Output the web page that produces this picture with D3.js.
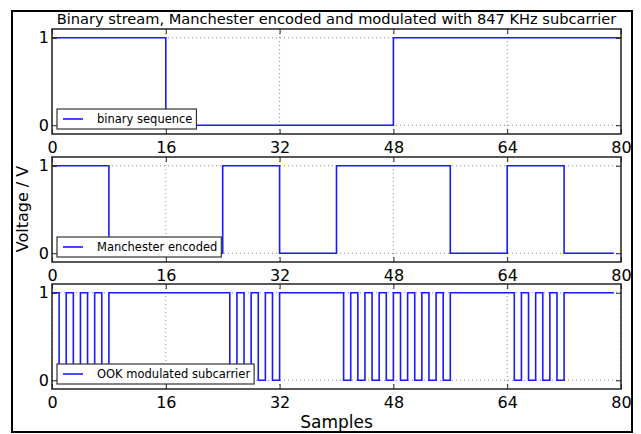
<!DOCTYPE html>
<html>
<head>
<meta charset="utf-8">
<script src="https://cdn.jsdelivr.net/npm/d3@7"></script>
<style>
  html, body { margin: 0; padding: 0; background: #fff; }
  svg { display: block; }
  text { font-family: "DejaVu Sans", sans-serif; fill: #000; }
</style>
</head>
<body>
<svg id="chart" width="641" height="434"></svg>
<script>
// ---- data ----
const title = "Binary stream, Manchester encoded and modulated with 847 KHz subcarrier";
const xLabel = "Samples";
const yLabel = "Voltage / V";
const xTicks = [0, 16, 32, 48, 64, 80];
const yTicks = [0, 1];
const bits = [1, 0, 0, 1, 1];
const samplesPerBit = 16;
const manchester = [
  1,1,1,1,1,1,1,1, 0,0,0,0,0,0,0,0,
  0,0,0,0,0,0,0,0, 1,1,1,1,1,1,1,1,
  0,0,0,0,0,0,0,0, 1,1,1,1,1,1,1,1,
  1,1,1,1,1,1,1,1, 0,0,0,0,0,0,0,0,
  1,1,1,1,1,1,1,1, 0,0,0,0,0,0,0,0
];
const ook = [
  1,0,1,0,1,0,1,0, 1,1,1,1,1,1,1,1,
  1,1,1,1,1,1,1,1, 1,0,1,0,1,0,1,0,
  1,1,1,1,1,1,1,1, 1,0,1,0,1,0,1,0,
  1,0,1,0,1,0,1,0, 1,1,1,1,1,1,1,1,
  1,0,1,0,1,0,1,0, 1,1,1,1,1,1,1,1
];
const legendLabels = ["binary sequence", "Manchester encoded", "OOK modulated subcarrier"];

// binary sequence points: one per bit boundary, last value held to the end
const binaryPoints = bits.map((b, i) => [i * samplesPerBit, b])
  .concat([[bits.length * samplesPerBit, bits[bits.length - 1]]]);
const manchesterPoints = manchester.map((v, i) => [i, v]);
const ookPoints = ook.map((v, i) => [i, v]);
const series = [binaryPoints, manchesterPoints, ookPoints];

// ---- layout ----
const svg = d3.select("#chart");
const left = 52, right = 621;
const panelTops = [29, 157, 284];
const panelH = 105;
const lineColor = "#1a1aff";

// figure border
svg.append("rect").attr("x", 12).attr("y", 11).attr("width", 620).attr("height", 421)
  .attr("fill", "none").attr("stroke", "#000").attr("stroke-width", 2);

const x = d3.scaleLinear().domain([0, 80]).range([left, right]);

series.forEach((pts, k) => {
  const top = panelTops[k], bottom = top + panelH;
  const y = d3.scaleLinear().domain([-0.1, 1.1]).range([bottom, top]);
  const g = svg.append("g");

  // grid
  g.append("g").selectAll("line.gx").data(xTicks).join("line")
    .attr("x1", d => x(d)).attr("x2", d => x(d)).attr("y1", top).attr("y2", bottom)
    .attr("stroke", "#888").attr("stroke-width", 1).attr("stroke-dasharray", "1,3");
  g.append("g").selectAll("line.gy").data(yTicks).join("line")
    .attr("x1", left).attr("x2", right).attr("y1", d => y(d)).attr("y2", d => y(d))
    .attr("stroke", "#888").attr("stroke-width", 1).attr("stroke-dasharray", "1,3");

  // data line
  const line = d3.line().x(d => x(d[0])).y(d => y(d[1])).curve(d3.curveStepAfter);
  g.append("path").datum(pts).attr("d", line)
    .attr("fill", "none").attr("stroke", lineColor).attr("stroke-width", 1.6);

  // axes (inward ticks)
  const ax = [
    g.append("g").attr("transform", `translate(0,${bottom})`)
      .call(d3.axisBottom(x).tickValues(xTicks).tickSize(-5).tickPadding(8)),
    g.append("g").attr("transform", `translate(0,${top})`)
      .call(d3.axisTop(x).tickValues(xTicks).tickSize(-5).tickFormat("")),
    g.append("g").attr("transform", `translate(${left},0)`)
      .call(d3.axisLeft(y).tickValues(yTicks).tickFormat(d3.format("d")).tickSize(-5).tickPadding(3)),
    g.append("g").attr("transform", `translate(${right},0)`)
      .call(d3.axisRight(y).tickValues(yTicks).tickSize(-5).tickFormat(""))
  ];
  ax.forEach(a => {
    a.select(".domain").remove();
    a.selectAll(".tick line").attr("stroke", "#222").attr("stroke-width", 1);
    a.selectAll(".tick text").attr("font-size", 16).attr("font-family", "DejaVu Sans").attr("fill", "#000");
  });

  // frame
  g.append("rect").attr("x", left).attr("y", top).attr("width", right - left).attr("height", panelH)
    .attr("fill", "none").attr("stroke", "#222").attr("stroke-width", 1.5);

  // legend
  const lg = g.append("g");
  const boxX = left + 5, boxH = 20, boxY = bottom - 5 - boxH;
  const rect = lg.append("rect").attr("x", boxX).attr("y", boxY).attr("height", boxH)
    .attr("fill", "#fff").attr("stroke", "#333").attr("stroke-width", 1.2);
  lg.append("line").attr("x1", left + 11).attr("x2", left + 31)
    .attr("y1", boxY + boxH / 2).attr("y2", boxY + boxH / 2)
    .attr("stroke", lineColor).attr("stroke-width", 1.6);
  const t = lg.append("text").attr("x", left + 45).attr("y", boxY + boxH / 2)
    .attr("dy", "0.35em").attr("font-size", 11.5).text(legendLabels[k]);
  const tl = t.node().getComputedTextLength();
  rect.attr("width", (left + 45 - boxX) + tl + 4);
});

// title
svg.append("text").attr("x", (left + right) / 2).attr("y", 24)
  .attr("text-anchor", "middle").attr("font-size", 14.6).text(title);

// axis labels
svg.append("text").attr("x", (left + right) / 2).attr("y", 428)
  .attr("text-anchor", "middle").attr("font-size", 17).text(xLabel);
svg.append("text").attr("transform", `translate(28,${(panelTops[0] + panelTops[2] + panelH) / 2}) rotate(-90)`)
  .attr("text-anchor", "middle").attr("font-size", 16).text(yLabel);
</script>
</body>
</html>
